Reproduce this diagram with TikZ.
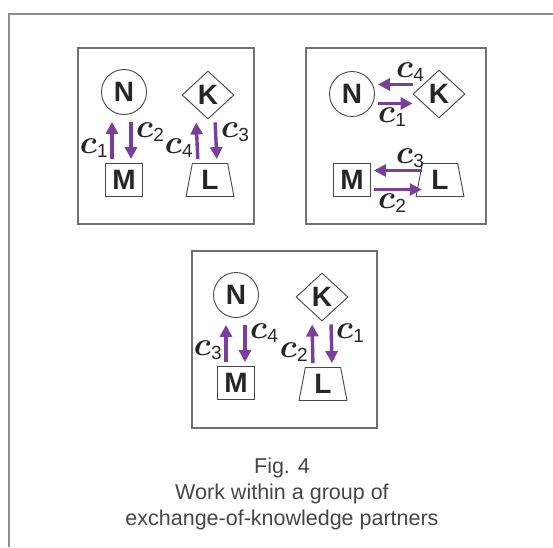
\RequirePackage{fix-cm}
\documentclass[tikz,border=0pt]{standalone}
\usepackage{amsmath}
\usepackage{fontspec}
\setmainfont{Liberation Sans}
\usetikzlibrary{shapes.geometric,arrows.meta,calc}

\definecolor{framegray}{RGB}{112,112,112}
\definecolor{inkgray}{RGB}{38,38,38}
\definecolor{capgray}{RGB}{70,70,70}
\definecolor{flow}{RGB}{122,62,156}

% subscripted transfer label c_i
\newcommand\clab[1]{$\boldsymbol{c}$\kern0.3pt\raisebox{-4pt}{\fontsize{19}{19}\selectfont #1}}

\tikzset{
  frame/.style={draw=framegray, line width=1.3pt},
  partner/.style={draw=inkgray!85, line width=0.9pt, inner sep=0pt, text=inkgray,
    font=\fontsize{28}{28}\selectfont\bfseries},
  pcircle/.style={partner, circle, minimum size=45pt},
  pdiamond/.style={partner, diamond, minimum width=52pt, minimum height=48pt},
  psquare/.style={partner, rectangle, minimum width=37pt, minimum height=33pt},
  ptrap/.style={partner, trapezium, trapezium stretches=true,
    trapezium left angle=81, trapezium right angle=81,
    minimum width=48pt, minimum height=33pt},
  arr/.style={draw=flow, line width=3.4pt, -{Triangle[width=12pt,length=12pt]}},
  labl/.style={inner sep=0pt, anchor=base east, text=inkgray,
    font=\fontsize{33}{33}\selectfont},
  labr/.style={labl, anchor=base west},
  captext/.style={inner sep=0pt, anchor=base, text=capgray,
    font=\fontsize{21.5}{21.5}\selectfont},
}

\begin{document}
\begin{tikzpicture}[x=1pt, y=-1pt]
\useasboundingbox (0,0) rectangle (553,547);

% page border (top and left edges)
\draw[draw=framegray!80, line width=1.5pt] (553,14) -- (9,14) -- (9,547);

% ---------- panel 1 ----------
\draw[frame] (78,48) rectangle (254,224);
\node[pcircle]  (N1) at (124,92)  {N};
\node[pdiamond] (K1) at (208,95)  {K};
\node[psquare]  (M1) at (124,180) {M};
\node[ptrap]    (L1) at (210,180) {L};
\draw[arr, shorten <=4pt, shorten >=7pt] ([xshift=-12pt]M1.north) -- ([xshift=-12pt]N1.south);
\draw[arr, shorten <=7pt, shorten >=4pt] ([xshift=7pt]N1.south) -- ([xshift=7pt]M1.north);
\draw[arr, shorten <=4pt, shorten >=3pt] ([xshift=-12pt]L1.north) -- ([xshift=-12pt]K1.south);
\draw[arr, shorten <=3pt, shorten >=4pt] ([xshift=7pt]K1.south) -- ([xshift=7pt]L1.north);
\node[labl] (a1) at (108,153) {\clab{1}};
\node[labr] (a2) at (136,137) {\clab{2}};
\node[labl] (a4) at (193,153) {\clab{4}};
\node[labr] (a3) at (221,137) {\clab{3}};

% ---------- panel 2 ----------
\draw[frame] (306,48) rectangle (486,224);
\node[pcircle]  (N2) at (352,94)  {N};
\node[pdiamond] (K2) at (439,94)  {K};
\node[psquare]  (M2) at (352,180) {M};
\node[ptrap]    (L2) at (440,180) {L};
\draw[arr, shorten <=0pt, shorten >=3pt] ([yshift=9.5pt]K2.west) -- ([yshift=9.5pt]N2.east);
\draw[arr, shorten <=3pt, shorten >=0pt] ([yshift=-9.5pt]N2.east) -- ([yshift=-9.5pt]K2.west);
\draw[arr, shorten <=-3pt, shorten >=3pt] ([yshift=9.5pt]L2.west) -- ([yshift=9.5pt]M2.east);
\draw[arr, shorten <=3pt, shorten >=-3pt] ([yshift=-9.5pt]M2.east) -- ([yshift=-9.5pt]L2.west);
\node[labr] (b4) at (396,77)  {\clab{4}};
\node[labr] (b1) at (378,122) {\clab{1}};
\node[labr] (b3) at (396,163) {\clab{3}};
\node[labr] (b2) at (378,208) {\clab{2}};

% ---------- panel 3 ----------
\draw[frame] (192,251) rectangle (377,428);
\node[pcircle]  (N3) at (236,295) {N};
\node[pdiamond] (K3) at (322,297) {K};
\node[psquare]  (M3) at (236,383) {M};
\node[ptrap]    (L3) at (323,384) {L};
\draw[arr, shorten <=4pt, shorten >=7pt] ([xshift=-10pt]M3.north) -- ([xshift=-10pt]N3.south);
\draw[arr, shorten <=7pt, shorten >=4pt] ([xshift=9pt]N3.south) -- ([xshift=9pt]M3.north);
\draw[arr, shorten <=4pt, shorten >=3pt] ([xshift=-10pt]L3.north) -- ([xshift=-10pt]K3.south);
\draw[arr, shorten <=3pt, shorten >=4pt] ([xshift=9pt]K3.south) -- ([xshift=9pt]L3.north);
\node[labl] (d3) at (222,355) {\clab{3}};
\node[labr] (d4) at (250,338) {\clab{4}};
\node[labl] (d2) at (308,357) {\clab{2}};
\node[labr] (d1) at (336,338) {\clab{1}};

% ---------- caption ----------
\node[captext] (cap1) at (282,473) {Fig. 4};
\node[captext] (cap2) at (282,499) {Work within a group of};
\node[captext] (cap3) at (282,525) {exchange-of-knowledge partners};
\end{tikzpicture}
\end{document}
